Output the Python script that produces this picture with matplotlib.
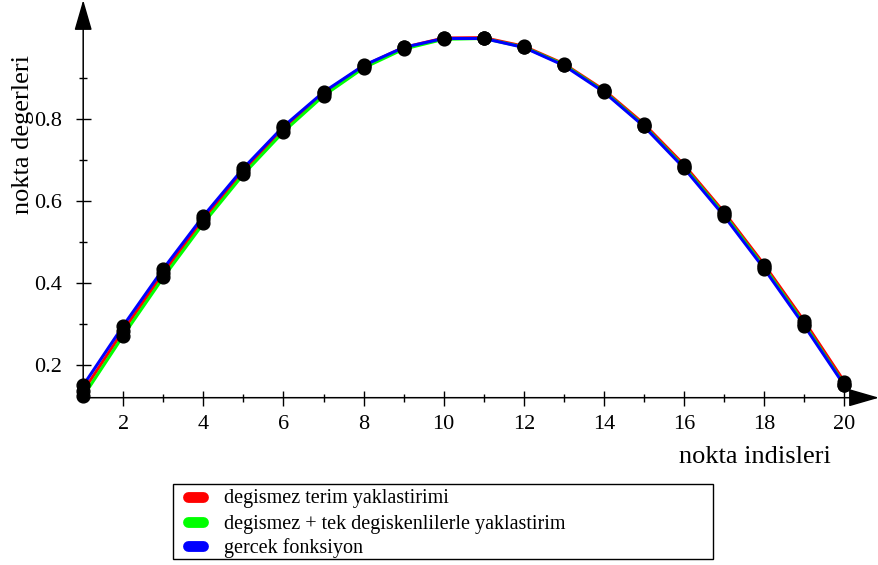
import matplotlib
matplotlib.use("Agg")
import matplotlib.pyplot as plt
from matplotlib.lines import Line2D
from matplotlib.patches import Rectangle

plt.rcParams["font.family"] = "serif"
plt.rcParams["font.serif"] = ["Liberation Serif", "DejaVu Serif"]

# point indices and values of the three curves
indices = list(range(1, 21))
sabit_terim = [0.135, 0.283, 0.424, 0.555, 0.674, 0.777, 0.863, 0.930, 0.975, 0.998,
               0.999, 0.978, 0.935, 0.871, 0.788, 0.688, 0.572, 0.444, 0.306, 0.158]
tek_degisken = [0.122, 0.271, 0.413, 0.545, 0.665, 0.769, 0.857, 0.925, 0.971, 0.995,
                0.997, 0.976, 0.933, 0.868, 0.784, 0.683, 0.567, 0.438, 0.299, 0.151]
gercek = [0.149, 0.295, 0.434, 0.563, 0.680, 0.782, 0.866, 0.931, 0.975, 0.997,
          0.997, 0.975, 0.931, 0.866, 0.782, 0.680, 0.563, 0.434, 0.295, 0.149]

series_labels = ["degismez terim yaklastirimi",
                 "degismez + tek degiskenlilerle yaklastirim",
                 "gercek fonksiyon"]
series_colors = ["#ff0000", "#00ff00", "#0000ff"]

x_major = [2, 4, 6, 8, 10, 12, 14, 16, 18, 20]
x_minor = [3, 5, 7, 9, 11, 13, 15, 17, 19]
y_major = [0.2, 0.4, 0.6, 0.8]
y_minor = [0.3, 0.5, 0.7, 0.9]

W, H = 879, 565
fig = plt.figure(figsize=(W / 100, H / 100), dpi=100)
ax = fig.add_axes([83.2 / W, 1 - 397.7 / H, 1 - 83.2 / W, 397.7 / H])
ax.set_xlim(1, 20.866)
ax.set_ylim(0.119, 1.091)

for vals, col in zip([sabit_terim, tek_degisken, gercek], series_colors):
    ax.plot(indices, vals, color=col, lw=2.2, clip_on=False, zorder=3)
for vals in [sabit_terim, tek_degisken, gercek]:
    ax.plot(indices, vals, "o", color="black", ms=9.2, clip_on=False, zorder=4)

for s in ax.spines.values():
    s.set_visible(False)

# axis lines with arrow heads
arrow = dict(arrowstyle="-|>,head_length=1.9,head_width=0.55", mutation_scale=10,
             color="black", lw=1.1, shrinkA=0, shrinkB=0)
ax.annotate("", xy=(1, 0), xytext=(0, 0), xycoords="axes fraction",
            textcoords="axes fraction", arrowprops=arrow, annotation_clip=False)
ax.annotate("", xy=(0, 1), xytext=(0, 0), xycoords="axes fraction",
            textcoords="axes fraction", arrowprops=arrow, annotation_clip=False)

ax.set_xticks(x_major)
ax.set_xticks(x_minor, minor=True)
ax.set_yticks(y_major)
ax.set_yticks(y_minor, minor=True)
ax.set_yticklabels([f"{v:.1f}" for v in y_major])
ax.tick_params(which="major", direction="inout", length=10.8, width=1.0,
               labelsize=16)
ax.tick_params(axis="x", which="major", pad=7)
ax.tick_params(axis="y", which="major", pad=10)
ax.tick_params(which="minor", direction="inout", length=5.8, width=1.0)

fig.text(755 / W, 1 - 457 / H, "nokta indisleri", fontsize=19,
         ha="center", va="center")
fig.text(23 / W, 1 - 134 / H, "nokta degerleri", fontsize=19,
         ha="center", va="center", rotation=90)

# legend box drawn by hand: frame, rounded colour swatches and labels
fig.add_artist(Rectangle((173 / W, 1 - 559 / H), 540 / W, 75 / H,
                         transform=fig.transFigure, fill=False,
                         edgecolor="black", lw=1.0))
row_y = [497, 522, 546]
for yy, col, lab in zip(row_y, series_colors, series_labels):
    fig.add_artist(Line2D([188 / W, 203 / W], [1 - yy / H, 1 - yy / H],
                          transform=fig.transFigure, color=col, lw=7.8,
                          solid_capstyle="round"))
    fig.text(224 / W, 1 - (yy + 2) / H, lab, fontsize=14.5, ha="left", va="center")

fig.savefig("out.png", dpi=100)
